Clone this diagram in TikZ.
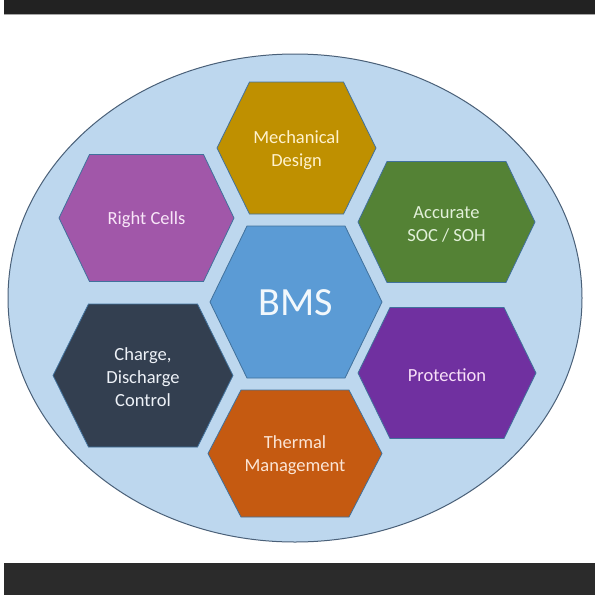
\documentclass[tikz,border=0pt]{standalone}
\usepackage{fontspec}
\setmainfont{Carlito}
\definecolor{barA}{HTML}{222222}
\definecolor{barB}{HTML}{2B2B2B}
\definecolor{ellfill}{HTML}{BDD7EE}
\definecolor{elldraw}{HTML}{4A6078}
\definecolor{hexdraw}{HTML}{41719C}
\definecolor{cBMS}{HTML}{5B9BD5}
\definecolor{cMech}{HTML}{BF9000}
\definecolor{cCells}{HTML}{A157A9}
\definecolor{cSOC}{HTML}{548235}
\definecolor{cCharge}{HTML}{333F50}
\definecolor{cProt}{HTML}{7030A0}
\definecolor{cTherm}{HTML}{C55A11}
\definecolor{tBMS}{HTML}{F2F8FC}
\definecolor{tMech}{HTML}{FFF2CC}
\definecolor{tCells}{HTML}{F8E6F8}
\definecolor{tSOC}{HTML}{E2F0D9}
\definecolor{tCharge}{HTML}{EEF2F8}
\definecolor{tProt}{HTML}{F8E0F8}
\definecolor{tTherm}{HTML}{FBE5D6}
\tikzset{
  hexline/.style={draw=hexdraw, line width=0.8pt, line join=miter},
  lbl/.style={align=center, font=\fontsize{18.5}{23}\selectfont, inner sep=0pt},
  big/.style={align=center, font=\fontsize{40}{48}\selectfont, inner sep=0pt},
}
% name, cx, cy, hw, hh, top-half, fill, textcolor, text
\newcommand{\hexbox}[9]{%
  \filldraw[hexline, fill=#7] ({#2-#4},#3) -- ({#2-#6},{#3-#5}) -- ({#2+#6},{#3-#5})
    -- ({#2+#4},#3) -- ({#2+#6},{#3+#5}) -- ({#2-#6},{#3+#5}) -- cycle;
  \node[lbl, text=#8] (#1) at (#2,{#3+2}) {#9};%
}
\begin{document}
\begin{tikzpicture}[x=1pt,y=-1pt]
\useasboundingbox (0,0) rectangle (595,595);
\fill[white] (0,0) rectangle (595,595);
% bars
\fill[barA] (4,0) rectangle (595,14);
\draw[gray!70, line width=0.6pt] (4,14) -- (595,14);
\fill[barB] (4,563) rectangle (595,595);
% ellipse
\filldraw[fill=ellfill, draw=elldraw, line width=1pt] (295,298) ellipse [x radius=287pt, y radius=244pt];
% hexagons
\hexbox{mech}{296.5}{148}{79.5}{66}{47}{cMech}{tMech}{Mechanical\\Design}
\hexbox{cells}{146.5}{218}{87.5}{63.5}{57}{cCells}{tCells}{Right Cells}
\hexbox{soc}{446.5}{222}{88.5}{60.5}{59.5}{cSOC}{tSOC}{Accurate\\SOC / SOH}
\hexbox{charge}{143}{375.5}{90}{71.5}{54.5}{cCharge}{tCharge}{Charge,\\Discharge\\Control}
\hexbox{prot}{447}{373}{89}{65.5}{57}{cProt}{tProt}{Protection}
\hexbox{therm}{295}{453.5}{87}{63.5}{54}{cTherm}{tTherm}{Thermal\\Management}
\filldraw[hexline, fill=cBMS] (210,302) -- (247,226) -- (345,226) -- (382,302) -- (345,378) -- (247,378) -- cycle;
\node[big, text=tBMS] (bms) at (296,303) {BMS};
\end{tikzpicture}
\end{document}
